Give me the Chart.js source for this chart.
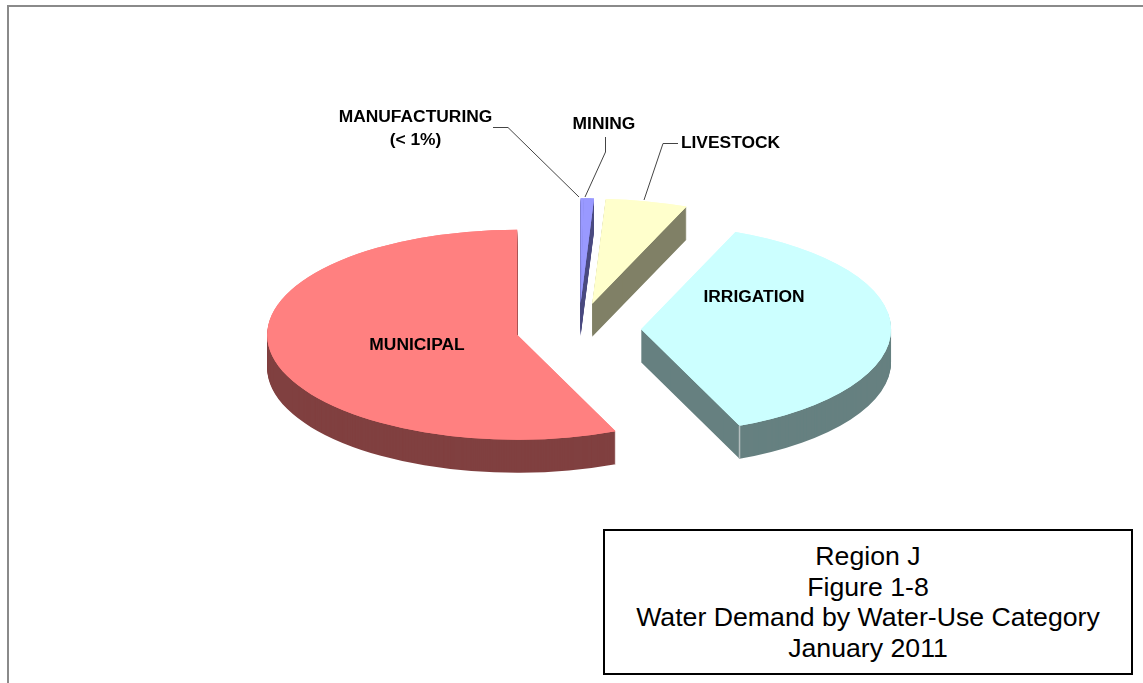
<!DOCTYPE html>
<html>
<head>
<meta charset="utf-8">
<title>Region J - Figure 1-8</title>
<script src="https://cdn.jsdelivr.net/npm/chart.js@4/dist/chart.umd.min.js"></script>
<style>
    html, body { margin: 0; padding: 0; background: #fff; overflow: hidden; }
    #page { position: relative; width: 1143px; height: 683px; }
    #frame {
        position: absolute; left: 7px; top: 5px; right: 0; bottom: 0;
        border-top: 2px solid #8a8a8a; border-left: 2px solid #8a8a8a;
    }
    canvas { position: absolute; left: 0; top: 0; }
    #caption {
        position: absolute; left: 603px; top: 529px; width: 526px; height: 132px;
        border: 2px solid #000; padding-top: 10px; text-align: center; background: #fff;
        font: 26.7px/30.5px "Liberation Sans", Arial, sans-serif; color: #000;
    }
</style>
</head>
<body>
<div id="page">
    <div id="frame"></div>
    <canvas id="pieChart" width="1143" height="683"></canvas>
    <div id="caption"></div>
</div>
<script>
// Data
const categories = ['MANUFACTURING', 'MINING', 'LIVESTOCK', 'IRRIGATION', 'MUNICIPAL'];
const demandShare = [0.2, 0.66, 5.3, 37.4, 56.44];
const topColors = ['#9999FF', '#9999FF', '#FFFFCC', '#CCFFFF', '#FF8080'];
const sideColors = ['#4C4C80', '#4C4C80', '#808066', '#668080', '#804040'];
const captionLines = ['Region J', 'Figure 1-8', 'Water Demand by Water-Use Category', 'January 2011'];

// Fake 3D look
const tilt = 0.42;       // vertical squash of the pie
const depth = 33;        // height of the side wall in px
const explode = 62.6;    // how far each slice is pulled out

// Labels and leader lines
const sliceLabels = [
    { lines: ['MANUFACTURING', '(< 1%)'], x: 415.5, y: 117.5, gap: 23 },
    { lines: ['MINING'], x: 604, y: 124 },
    { lines: ['LIVESTOCK'], x: 730.5, y: 143 },
    { lines: ['IRRIGATION'], x: 754, y: 297 },
    { lines: ['MUNICIPAL'], x: 417, y: 345 }
];
const leaders = [
    [[493, 127.5], [508, 127.5], [579, 197]],
    [[605.5, 137], [605.5, 152], [585, 197]],
    [[678, 143.5], [663, 143.5], [644, 200]]
];

document.getElementById('caption').innerHTML = captionLines.join('<br>');

// Draws one slice through the arc element with the tilt, depth shift and explode applied
function drawSlice(ctx, arc, mid, yShift, color) {
    const saved = arc.options;
    ctx.save();
    ctx.translate(arc.x, arc.y + yShift);
    ctx.scale(1, tilt);
    ctx.translate(-arc.x + Math.cos(mid) * explode, -arc.y + Math.sin(mid) * explode);
    arc.options = Object.assign({}, saved, { backgroundColor: color, borderWidth: 0 });
    arc.draw(ctx);
    arc.options = saved;
    ctx.restore();
}

const pie3d = {
    id: 'pie3d',
    beforeDatasetDraw(chart, args) {
        const ctx = chart.ctx;
        const arcs = chart.getDatasetMeta(args.index).data;
        // manufacturing moves together with mining so no gap shows between them
        const mids = arcs.map((arc, i) => {
            const a = i === 0 ? arcs[1] : arc;
            return (a.startAngle + a.endAngle) / 2;
        });
        arcs.forEach((arc, i) => {
            for (let d = depth; d >= 1; d--) {
                drawSlice(ctx, arc, mids[i], d, sideColors[i]);
            }
        });
        // top face twice, hides the dark fringe of the side wall behind it
        arcs.forEach((arc, i) => {
            drawSlice(ctx, arc, mids[i], 0, topColors[i]);
            drawSlice(ctx, arc, mids[i], 0, topColors[i]);
        });

        // pale seam on the front corner of the irrigation slice
        const irr = arcs[categories.indexOf('IRRIGATION')];
        const mid = mids[categories.indexOf('IRRIGATION')];
        const seamX = irr.x + Math.cos(mid) * explode + Math.cos(irr.endAngle) * irr.outerRadius;
        const seamY = irr.y + tilt * (Math.sin(mid) * explode + Math.sin(irr.endAngle) * irr.outerRadius);
        ctx.save();
        ctx.strokeStyle = '#b4bebe';
        ctx.lineWidth = 1.5;
        ctx.beginPath();
        ctx.moveTo(seamX, seamY);
        ctx.lineTo(seamX, seamY + depth);
        ctx.stroke();
        ctx.restore();
        return false;
    },
    afterDraw(chart) {
        const ctx = chart.ctx;
        ctx.save();
        // leader lines
        ctx.strokeStyle = '#444';
        ctx.lineWidth = 1;
        leaders.forEach(points => {
            ctx.beginPath();
            points.forEach((p, i) => i ? ctx.lineTo(p[0], p[1]) : ctx.moveTo(p[0], p[1]));
            ctx.stroke();
        });
        // slice labels
        ctx.fillStyle = '#000';
        ctx.font = 'bold 17.4px "Liberation Sans", Arial, sans-serif';
        ctx.textAlign = 'center';
        ctx.textBaseline = 'middle';
        sliceLabels.forEach(label => {
            label.lines.forEach((line, i) => ctx.fillText(line, label.x, label.y + i * (label.gap || 0)));
        });
        ctx.restore();
    }
};

new Chart(document.getElementById('pieChart').getContext('2d'), {
    type: 'pie',
    data: {
        labels: categories,
        datasets: [{
            data: demandShare,
            backgroundColor: topColors,
            borderWidth: 0,
            radius: 250
        }]
    },
    options: {
        responsive: false,
        animation: false,
        events: [],
        layout: { padding: { left: 14, bottom: 24 } },
        plugins: {
            legend: { display: false },
            tooltip: { enabled: false }
        }
    },
    plugins: [pie3d]
});
</script>
</body>
</html>
